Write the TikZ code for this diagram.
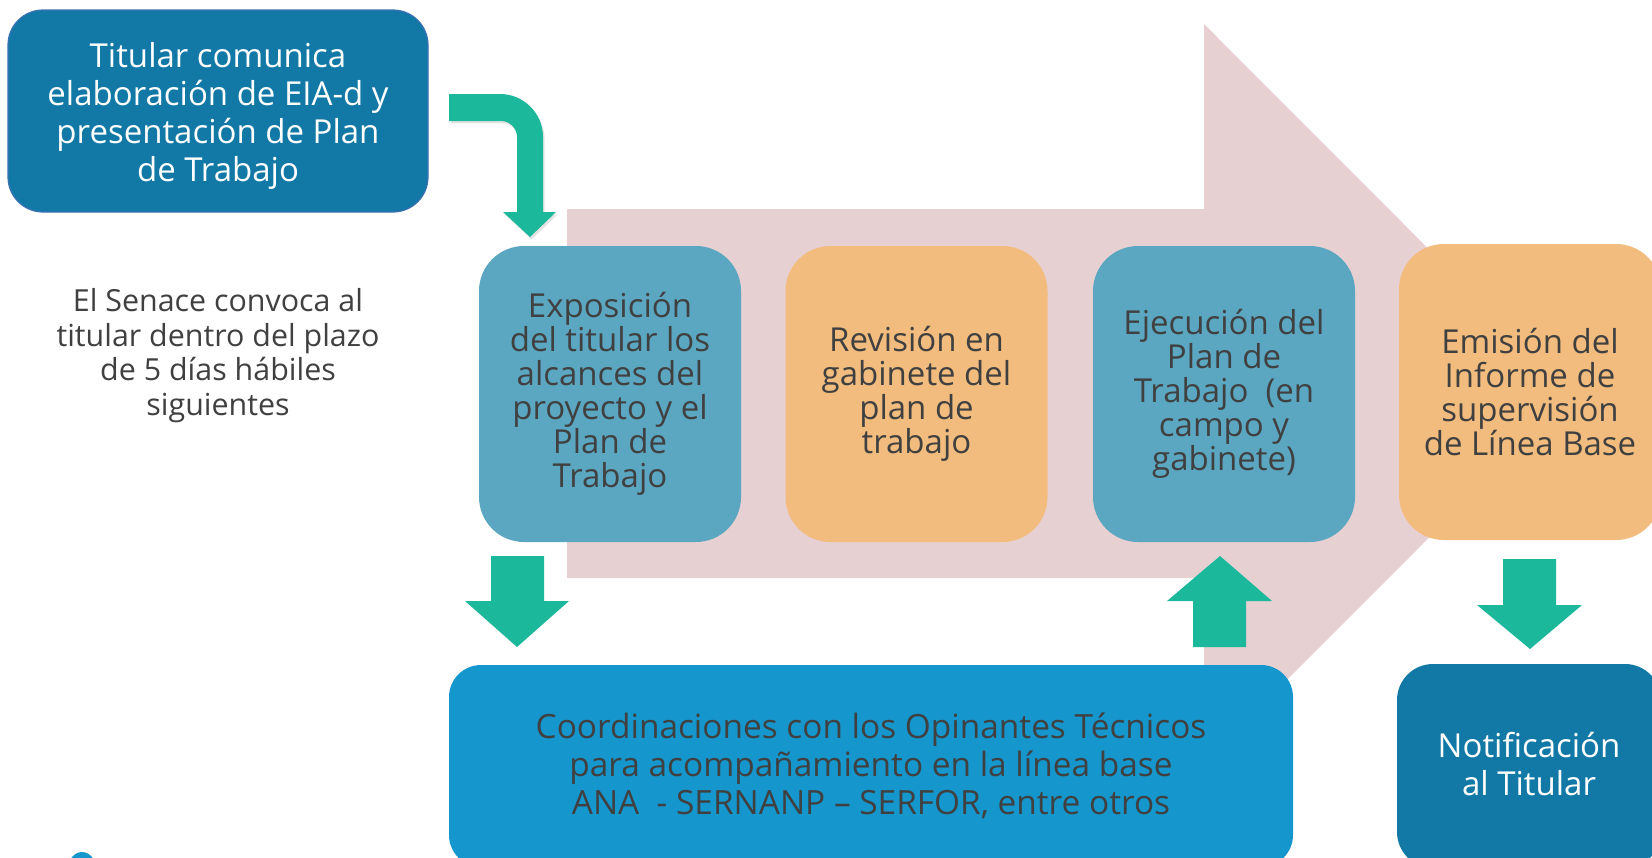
\documentclass[tikz,border=0pt]{standalone}
\usepackage{fontspec}
\setmainfont{Open Sans}
\usetikzlibrary{shadows}
\definecolor{pinkbg}{HTML}{E7D0D2}
\definecolor{steel}{HTML}{5BA7C1}
\definecolor{peach}{HTML}{F1BC7D}
\definecolor{teal}{HTML}{1CB89C}
\definecolor{darkblue}{HTML}{1278A5}
\definecolor{brightblue}{HTML}{1596CC}
\definecolor{txtgray}{HTML}{404040}
\definecolor{edgeblue}{HTML}{3C72B4}
\begin{document}
\begin{tikzpicture}[x=0.5pt,y=-0.5pt,
  midbox/.style={rectangle, rounded corners=22.5pt, inner sep=0pt, align=center,
    minimum width=131pt, minimum height=148pt, text=txtgray,
    font=\fontsize{16.5}{17}\selectfont},
  bluebox/.style={midbox, fill=steel},
  peachbox/.style={midbox, fill=peach},
  arrowshape/.style={fill=teal},
]
\useasboundingbox (0,0) rectangle (1652,857);
\clip (0,0) rectangle (1652,857);

% big background arrow
\fill[pinkbg] (567,209) -- (1204,209) -- (1204,24) -- (1573,393.5) -- (1204,763) -- (1204,578) -- (567,578) -- cycle;

% top-left box
\node[rectangle, rounded corners=17.5pt, fill=darkblue, draw=edgeblue, line width=0.6pt,
  minimum width=210pt, minimum height=101pt, inner sep=0pt, align=center, text=white,
  font=\fontsize{16.5}{19}\selectfont] (start) at (218,111)
  {\rule{0pt}{17.8pt}Titular comunica\\elaboración de EIA-d y\\presentación de Plan\\de Trabajo};

% left text
\node[align=center, text=txtgray, font=\fontsize{15.2}{17.4}\selectfont] (senace) at (218,355.5)
  {El Senace convoca al\\titular dentro del plazo\\de 5 días hábiles\\siguientes};

% middle row
\node[bluebox] (expo) at (610,394)
  {Exposición\\del titular los\\alcances del\\proyecto y el\\Plan de\\Trabajo};
\node[peachbox] (rev) at (916.5,394)
  {Revisión en\\gabinete del\\plan de\\trabajo};
\node[bluebox] (ejec) at (1224,394)
  {Ejecución del\\Plan de\\Trabajo\ \ (en\\campo y\\gabinete)};
\node[peachbox] (emis) at (1530,392)
  {Emisión del\\Informe de\\supervisión\\de Línea Base};

% bottom boxes
\node[rectangle, rounded corners=16pt, fill=brightblue, inner sep=0pt, align=center,
  minimum width=422pt, minimum height=101pt, text=txtgray,
  font=\fontsize{16.7}{19}\selectfont] (coord) at (871,766)
  {Coordinaciones con los Opinantes Técnicos\\para acompañamiento en la línea base\\ANA\ \ - SERNANP – SERFOR, entre otros};
\node[rectangle, rounded corners=18pt, fill=darkblue, inner sep=0pt, align=center,
  minimum width=132pt, minimum height=102pt, text=white,
  font=\fontsize{16.5}{19}\selectfont] (notif) at (1529,766)
  {Notificación\\al Titular\rule[-2pt]{0pt}{1pt}};

% small blue sliver bottom-left
\fill[brightblue] (82,872) ellipse [x radius=15, y radius=20];

% bent arrow
\fill[teal, drop shadow={shadow xshift=0.8pt, shadow yshift=-1.2pt, opacity=0.22}]
  (449,94) -- (500,94) .. controls (523.7,94) and (543,113.3) .. (543,137)
  -- (543,212) -- (556,212) -- (530,237) -- (503,212) -- (517,212) -- (517,137)
  .. controls (517,128.2) and (509.8,121) .. (501,121) -- (449,121) -- cycle;

% down arrow below Exposicion
\fill[arrowshape] (491,556) -- (544,556) -- (544,601) -- (569,601) -- (517,647) -- (465,601) -- (491,601) -- cycle;
% up arrow below Ejecucion
\fill[arrowshape] (1193,647) -- (1246,647) -- (1246,601) -- (1272,601) -- (1220,556) -- (1167,601) -- (1193,601) -- cycle;
% down arrow below Emision
\fill[arrowshape] (1503,559) -- (1556,559) -- (1556,605) -- (1582,605) -- (1530,649) -- (1477,605) -- (1503,605) -- cycle;
\end{tikzpicture}
\end{document}
